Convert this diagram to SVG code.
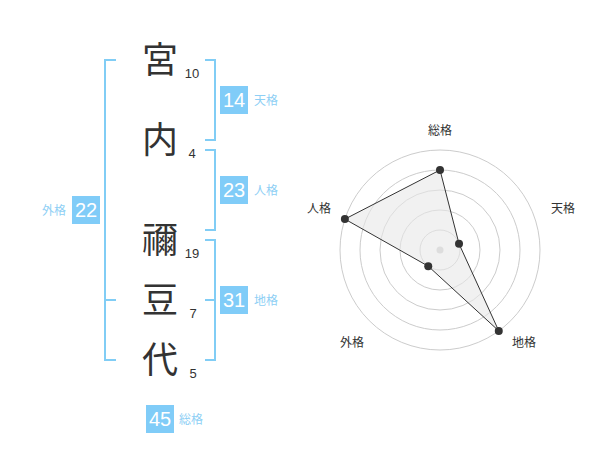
<svg xmlns="http://www.w3.org/2000/svg" width="600" height="470" viewBox="0 0 600 470">
<style>
text{font-family:"Liberation Sans","Noto Sans CJK JP",sans-serif;}
.big{font-size:36px;fill:#333;text-anchor:middle;}
.num{font-size:13px;fill:#333;text-anchor:middle;}
.box{fill:#80ccf8;}
.bn{font-size:20px;fill:#fff;text-anchor:middle;}
.bl{font-size:12px;fill:#8ecff5;}
.br{fill:none;stroke:#81cdf5;stroke-width:2;}
.ring{fill:none;stroke:#ccc;stroke-width:1;}
.rl{font-size:12px;fill:#333;text-anchor:middle;}
.pt{fill:#333;}
</style>
<rect width="600" height="470" fill="#fff"/>
<g id="connectors">
<path class="br" d="M116,60 H105 V360 H116 M105,300 H116"/>
<path class="br" d="M205,60 H215 V140 H205"/>
<path class="br" d="M205,150 H215 V230 H205"/>
<path class="br" d="M205,240 H215 V360 H205 M215,300 H205"/>
</g>
<g id="name">
<g id="c1"><text class="big" x="160" y="73">宮</text><text class="num" x="192" y="78">10</text></g>
<g id="c2"><text class="big" x="160" y="153">内</text><text class="num" x="192" y="158">4</text></g>
<g id="c3"><text class="big" x="160" y="253">禰</text><text class="num" x="192" y="258">19</text></g>
<g id="c4"><text class="big" x="160" y="313">豆</text><text class="num" x="193" y="318">7</text></g>
<g id="c5"><text class="big" x="160" y="373">代</text><text class="num" x="193" y="378">5</text></g>
</g>
<g id="tenkaku"><rect class="box" x="220" y="86" width="28" height="28"/><text class="bn" x="234" y="107">14</text><text class="bl" x="254" y="105">天格</text></g>
<g id="jinkaku"><rect class="box" x="220" y="176" width="28" height="28"/><text class="bn" x="234" y="197">23</text><text class="bl" x="254" y="195">人格</text></g>
<g id="chikaku"><rect class="box" x="220" y="286" width="28" height="28"/><text class="bn" x="234" y="307">31</text><text class="bl" x="254" y="305">地格</text></g>
<g id="gaikaku"><rect class="box" x="72" y="196" width="28" height="28"/><text class="bn" x="86" y="217">22</text><text class="bl" x="66" y="215" text-anchor="end">外格</text></g>
<g id="soukaku"><rect class="box" x="146" y="405" width="28" height="28"/><text class="bn" x="160" y="426">45</text><text class="bl" x="179" y="424">総格</text></g>
<g id="radar">
<circle class="ring" cx="440" cy="250" r="20"/>
<circle class="ring" cx="440" cy="250" r="40"/>
<circle class="ring" cx="440" cy="250" r="60"/>
<circle class="ring" cx="440" cy="250" r="80"/>
<circle class="ring" cx="440" cy="250" r="100"/>
<circle cx="440" cy="250" r="3.5" fill="#ccc"/>
<polygon points="440,170 459.02,243.82 498.78,330.9 428.24,266.18 344.9,219.1" fill="#e8e8e8" fill-opacity="0.6" stroke="#333" stroke-width="1"/>
<circle class="pt" cx="440" cy="170" r="4"/>
<circle class="pt" cx="459.02" cy="243.82" r="4"/>
<circle class="pt" cx="498.78" cy="330.9" r="4"/>
<circle class="pt" cx="428.24" cy="266.18" r="4"/>
<circle class="pt" cx="344.9" cy="219.1" r="4"/>
<text class="rl" x="440" y="135">総格</text>
<text class="rl" x="563" y="213">天格</text>
<text class="rl" x="524" y="347">地格</text>
<text class="rl" x="352" y="347">外格</text>
<text class="rl" x="319" y="213">人格</text>
</g>
</svg>
